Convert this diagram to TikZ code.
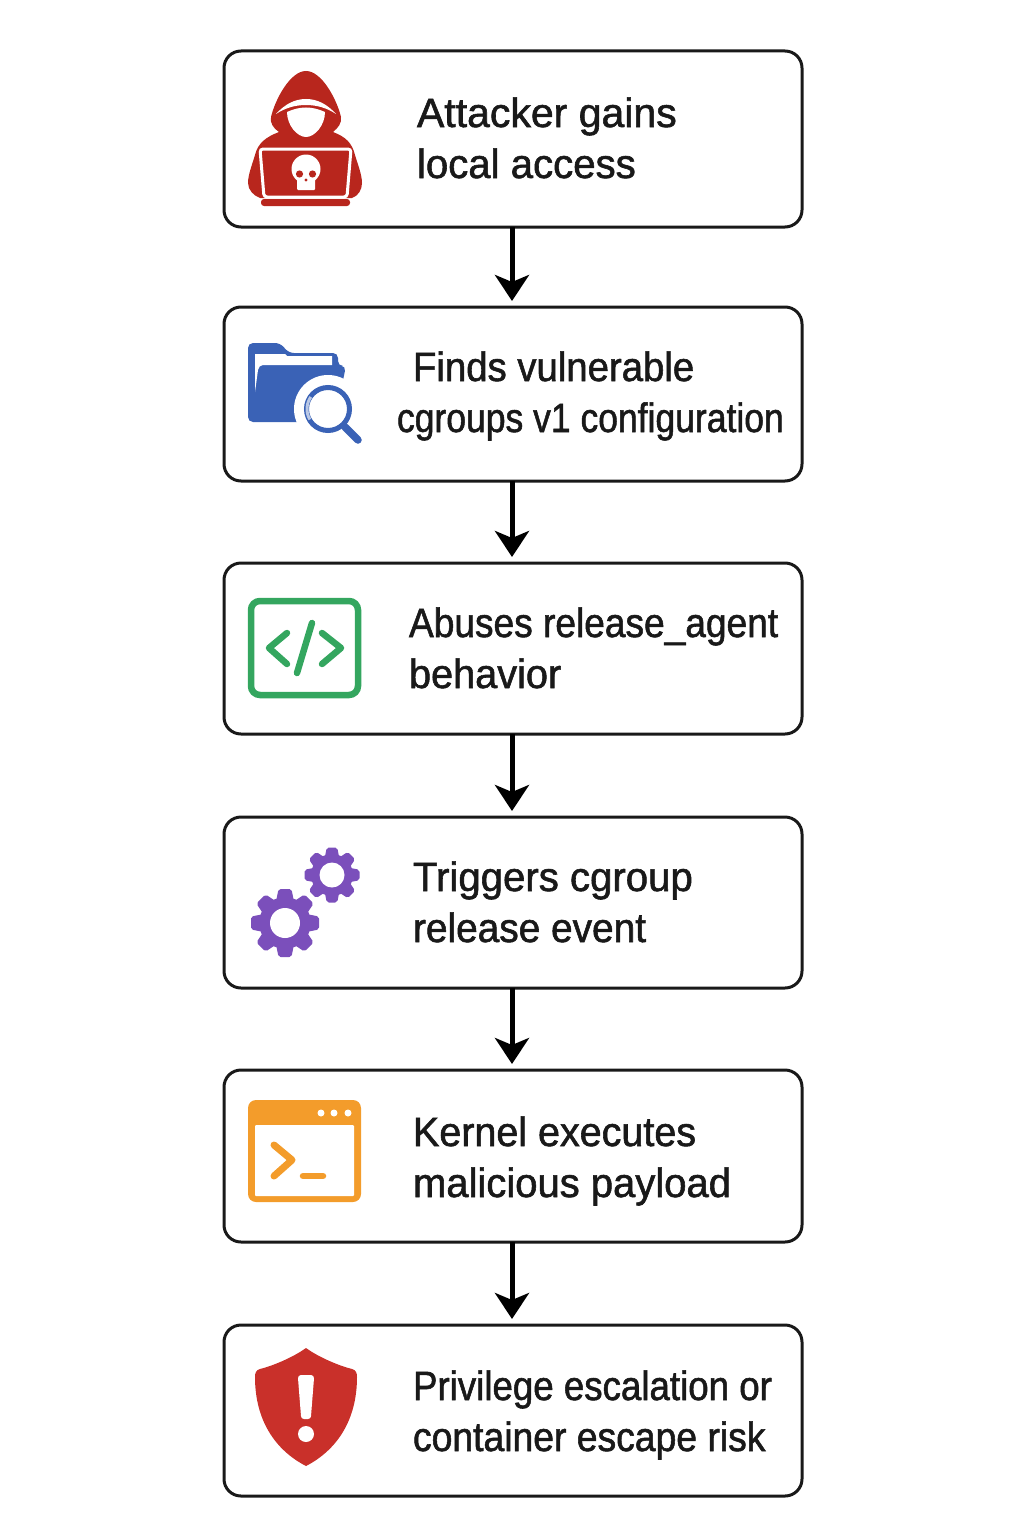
\documentclass[tikz,border=0pt]{standalone}
\usepackage{fontspec}
\usepackage{graphicx}
\setmainfont{Liberation Sans}
\newfontfamily\stepfont[FakeBold=1.4]{Liberation Sans}
\usetikzlibrary{positioning,arrows.meta}
\definecolor{hackerred}{HTML}{B8261D}
\definecolor{folderblue}{HTML}{3A62B6}
\definecolor{codegreen}{HTML}{34A65F}
\definecolor{gearpurple}{HTML}{7B4FBB}
\definecolor{termorange}{HTML}{F39C2B}
\definecolor{shieldred}{HTML}{C9302A}
\newcommand{\sq}[2]{\scalebox{#1}[1]{#2}}
\newcommand{\gearicon}[5]{%
    \fill[#5] (#1,#2) circle ({#3*0.76});
    \foreach \a in {0,45,...,315}
        \fill[#5, rotate around={\a:(#1,#2)}, rounded corners=2pt]
            ({#1-#3*0.27},{#2-#3*0.6}) -- ({#1-#3*0.19},{#2-#3}) -- ({#1+#3*0.19},{#2-#3}) -- ({#1+#3*0.27},{#2-#3*0.6}) -- cycle;
    \fill[white] (#1,#2) circle (#4);
}
\begin{document}
\begin{tikzpicture}[
            x=1pt, y=-1pt,
            every node/.style={inner sep=0pt, outer sep=0pt},
            stepbox/.style={draw=black!90, line width=3pt, rounded corners=17pt, minimum width=578pt},
            steptext/.style={anchor=base west, align=left, text=black!90, font=\stepfont\fontsize{41}{51}\selectfont},
            flowarrow/.style={draw=black, line width=5pt, shorten >=6pt, -{Stealth[length=26pt, width=34pt, inset=7pt]}}]
    \useasboundingbox (0,0) rectangle (1024,1536);
    \node [stepbox, minimum height=176pt] (access) at (513,139) {};
    \node [stepbox, minimum height=174pt, below=80pt of access] (cgroups) {};
    \node [stepbox, minimum height=171pt, below=82pt of cgroups] (abuse) {};
    \node [stepbox, minimum height=171pt, below=83pt of abuse] (trigger) {};
    \node [stepbox, minimum height=172pt, below=82pt of trigger] (kernel) {};
    \node [stepbox, minimum height=171pt, below=83pt of kernel] (risk) {};

    \node [steptext] (accesstext) at (417,178) {\sq{1}{Attacker gains}\\\sq{.98}{local access}};
    \node [steptext] (cgroupstext) at (397,432) {\hspace*{16pt}\sq{.935}{Finds vulnerable}\\\sq{.866}{cgroups v1 configuration}};
    \node [steptext] (abusetext) at (409,688) {\sq{.905}{Abuses release\_agent}\\\sq{.968}{behavior}};
    \node [steptext] (triggertext) at (413,942) {\sq{.98}{Triggers cgroup}\\\sq{.947}{release event}};
    \node [steptext] (kerneltext) at (413,1197) {\sq{.963}{Kernel executes}\\\sq{.976}{malicious payload}};
    \node [steptext] (risktext) at (413,1451) {\sq{.895}{Privilege escalation or}\\\sq{.91}{container escape risk}};

    \draw [flowarrow] ([xshift=-1pt]access.south) -- ([xshift=-1pt]cgroups.north);
    \draw [flowarrow] ([xshift=-1pt]cgroups.south) -- ([xshift=-1pt]abuse.north);
    \draw [flowarrow] ([xshift=-1pt]abuse.south) -- ([xshift=-1pt]trigger.north);
    \draw [flowarrow] ([xshift=-1pt]trigger.south) -- ([xshift=-1pt]kernel.north);
    \draw [flowarrow] ([xshift=-1pt]kernel.south) -- ([xshift=-1pt]risk.north);

    % hooded attacker
    \fill [hackerred] (306,71) .. controls (290,71) and (275,100) .. (271,117) .. controls (270,123) and (273,128) .. (279,132)
        .. controls (266,137) and (258,143) .. (255,155) .. controls (252,165) and (248,175) .. (248,183)
        .. controls (248,190) and (254,196) .. (260,198)
        -- (352,198) .. controls (358,196) and (362,190) .. (362,183) .. controls (362,175) and (358,165) .. (355,155)
        .. controls (352,143) and (346,137) .. (333,132)
        .. controls (338,128) and (342,123) .. (341,117) .. controls (337,100) and (322,71) .. (306,71) -- cycle;
    \fill [white] (276,114) .. controls (285,104) and (295,99) .. (306,99) .. controls (317,99) and (327,104) .. (336,114)
        .. controls (327,108) and (317,105) .. (306,105) .. controls (295,105) and (285,108) .. (276,114) -- cycle;
    \fill [white] (287,112) .. controls (300,106) and (312,106) .. (325,112) .. controls (325,125) and (315,137) .. (306,137)
        .. controls (297,137) and (287,125) .. (287,112) -- cycle;
    \draw [white, line width=3pt, rounded corners=3pt] (264,197) -- (260,149) -- (351,149) -- (347,197) -- cycle;
    \fill [hackerred, rounded corners=3pt] (261,199) rectangle (350,206);
    \fill [white] (306,169) circle (14.5);
    \fill [white, rounded corners=1pt] (297,176) rectangle (315,190);
    \fill [hackerred] (299.5,174) circle (3.6) (312.5,174) circle (3.6) (306,180) circle (1.6);

    % folder and lens
    \fill [folderblue, rounded corners=5pt] (248,343) -- (280,343) -- (289,353) -- (338,353) -- (338,366) -- (346,366)
        -- (342,385) -- (320,422) -- (248,422) -- cycle;
    \fill [white] (255,354) -- (285,354) -- (287,356) -- (332,356) -- (332,365) -- (263,365) .. controls (260,365) and (259,367) .. (258,370) -- (255,392) -- cycle;
    \fill [white] (328,409) circle (34);
    \draw [folderblue, line width=5pt] (328,409) circle (21.5);
    \draw [folderblue!35, line width=3pt] (328,409) ++(150:21) arc (150:215:21);
    \draw [folderblue, line width=7.5pt, line cap=round] (345,427) -- (358,440);

    % code window
    \draw [codegreen, line width=6.5pt, rounded corners=9pt] (251,601) rectangle (358,695);
    \draw [codegreen, line width=6.5pt, line cap=round, line join=round] (287,633) -- (269,648) -- (287,664);
    \draw [codegreen, line width=6.5pt, line cap=round, line join=round] (322,633) -- (341,648) -- (322,664);
    \draw [codegreen, line width=6.5pt, line cap=round] (312,623) -- (297,673);

    % gears
    \gearicon{285}{923}{34}{15}{gearpurple}
    \gearicon{332}{875}{27.5}{12.5}{gearpurple}

    % terminal window
    \fill [termorange, rounded corners=8pt] (248,1100) rectangle (361,1202);
    \fill [white, rounded corners=1pt] (255,1125) rectangle (354,1196);
    \fill [white] (321,1113) circle (3.5) (334,1113) circle (3.5) (348,1113) circle (3.5);
    \draw [termorange, line width=7pt, line cap=round, line join=round] (274,1145) -- (292,1160) -- (274,1176);
    \draw [termorange, line width=6.5pt, line cap=round] (303,1176) -- (323,1176);

    % shield
    \fill [shieldred] (306,1348) .. controls (292,1358) and (272,1366) .. (260,1369) .. controls (256,1370) and (255,1373) .. (255,1377)
        .. controls (255,1420) and (275,1450) .. (306,1466) .. controls (337,1450) and (357,1420) .. (357,1377)
        .. controls (357,1373) and (356,1370) .. (352,1369) .. controls (340,1366) and (320,1358) .. (306,1348) -- cycle;
    \filldraw [white, line width=6pt, line join=round] (301,1378) -- (311,1378) -- (308,1416) -- (304,1416) -- cycle;
    \fill [white] (306,1434) circle (8);
\end{tikzpicture}
\end{document}
